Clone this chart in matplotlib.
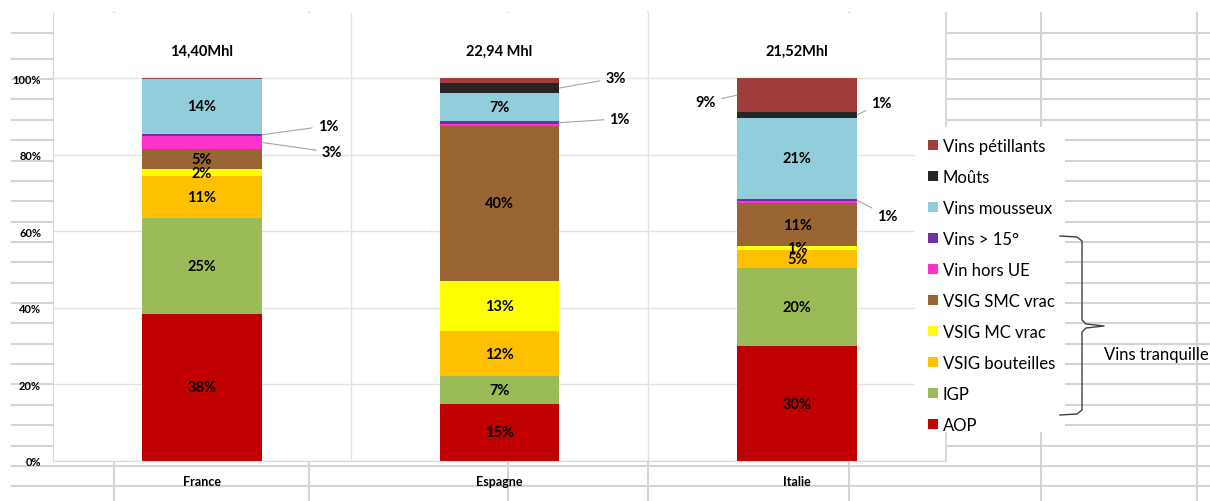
import matplotlib
matplotlib.use("Agg")
import matplotlib.pyplot as plt
from matplotlib.patches import Patch, Rectangle

plt.rcParams['font.family'] = ['Lato', 'DejaVu Sans']

# donnees (% du volume par pays)
pays = ['France', 'Espagne', 'Italie']
volumes = ['14,40Mhl', '22,94 Mhl', '21,52Mhl']
categories = ['AOP', 'IGP', 'VSIG bouteilles', 'VSIG MC vrac', 'VSIG SMC vrac',
              'Vin hors UE', 'Vins > 15°', 'Vins mousseux', 'Moûts', 'Vins pétillants']
aop = [38.4, 15.0, 30.0]
igp = [25.0, 7.1, 20.4]
vsig_bouteilles = [11.0, 11.9, 4.6]
vsig_mc_vrac = [1.8, 13.1, 1.1]
vsig_smc_vrac = [5.3, 40.3, 11.3]
vin_hors_ue = [3.4, 0.6, 0.4]
vins_15 = [0.6, 0.7, 0.6]
vins_mousseux = [14.2, 7.4, 21.3]
mouts = [0.0, 2.6, 1.4]
vins_petillants = [0.3, 1.3, 8.9]
parts = [aop, igp, vsig_bouteilles, vsig_mc_vrac, vsig_smc_vrac,
         vin_hors_ue, vins_15, vins_mousseux, mouts, vins_petillants]

couleurs = ['#C00000', '#9BBB59', '#FFC000', '#FFFF00', '#996633',
            '#FF33CC', '#7030A0', '#92CDDC', '#262626', '#A03C3C']

# etiquettes sorties de la barre : (pays, categorie, dx, dy) en pixels
externes = [(0, 6, 56, 9), (0, 5, 60, -10),
            (1, 8, 46, 10), (1, 6, 50, 4),
            (2, 9, -21, -7), (2, 8, 14, 12), (2, 6, 20, -16)]
cachees = [(1, 9)]

W, H = 1210, 502
fig = plt.figure(figsize=(W / 100, H / 100), dpi=100)

# fond facon tableur
bg = fig.add_axes([0, 0, 1, 1], zorder=0)
bg.set_xlim(0, W)
bg.set_ylim(H, 0)
bg.axis('off')
lignes = [34.3] + [59.7 + 20.36 * k for k in range(22)]
for y in lignes:
    bg.plot([12, W], [y, y], color='#d4d4d4', lw=1.5)
for x in [114, 309, 508, 648, 849, 1041, 1197]:
    bg.plot([x, x], [14, H], color='#d4d4d4', lw=1.5)

ax = fig.add_axes([53 / W, (H - 462) / H, (946 - 53) / W, (462 - 14) / H], zorder=1)
ax.set_facecolor('white')
ax.set_xlim(-0.5, 2.5)
ax.set_ylim(0, 117)

x = range(len(pays))
bas = [0.0] * len(pays)
for k, (vals, c, nom) in enumerate(zip(parts, couleurs, categories)):
    ax.bar(x, vals, 0.403, bottom=bas, color=c, label=nom, zorder=2)
    for i, v in enumerate(vals):
        milieu = bas[i] + v / 2
        ext = [e for e in externes if e[0] == i and e[1] == k]
        if ext:
            dx, dy = ext[0][2], ext[0][3]
            bord = i + 0.2015 if dx > 0 else i - 0.2015
            ax.annotate(f'{round(v)}%', xy=(bord, milieu), xytext=(dx, dy),
                        textcoords='offset pixels', ha='left' if dx > 0 else 'right',
                        va='center', fontsize=10.5, fontweight='bold',
                        arrowprops=dict(arrowstyle='-', color='#a6a6a6', lw=0.8,
                                        shrinkA=2, shrinkB=0), zorder=4)
        elif v >= 1 and (i, k) not in cachees:
            ax.text(i, milieu, f'{round(v)}%', ha='center', va='center',
                    fontsize=10.5, fontweight='bold', zorder=3)
        bas[i] += v

for i, vol in enumerate(volumes):
    ax.text(i, 107.0, vol, ha='center', va='center', fontsize=10.5, fontweight='bold')

ax.set_yticks(range(0, 101, 20))
ax.set_yticklabels([f'{t}%' for t in range(0, 101, 20)], fontsize=8, fontweight='bold')
ax.set_xticks(list(x))
ax.set_xticklabels(pays, fontsize=9, fontweight='bold')
ax.set_xticks([0.5, 1.5], minor=True)
ax.tick_params(axis='y', length=0, pad=8.6)
ax.tick_params(axis='x', which='both', length=0, pad=10)
ax.yaxis.grid(True, color='#e3e3e3', lw=1, zorder=0)
ax.xaxis.grid(True, which='minor', color='#e3e3e3', lw=1, zorder=0)
ax.set_axisbelow(True)
ax.spines['top'].set_visible(False)
for s in ['left', 'bottom', 'right']:
    ax.spines[s].set_color('#d9d9d9')
ax.spines['right'].set_linewidth(1.5)

# legende et accolade
top = fig.add_axes([0, 0, 1, 1], zorder=3)
top.set_xlim(0, W)
top.set_ylim(H, 0)
top.axis('off')
top.patch.set_alpha(0)
top.add_patch(Rectangle((915, 128), 150, 305, facecolor='white', edgecolor='none'))
acc_x = [1060, 1077, 1082, 1082, 1086, 1104, 1086, 1082, 1082, 1077, 1060]
acc_y = [237, 238, 242, 321, 325, 327, 329, 333, 411, 415, 416]
top.plot(acc_x, acc_y, color='#404040', lw=1)
top.text(1104, 355, 'Vins tranquille', ha='left', va='center', fontsize=12)

poignees = [Patch(facecolor=c, edgecolor='none') for c in couleurs][::-1]
leg = fig.legend(poignees, categories[::-1], loc='upper left',
                 bbox_to_anchor=(928 / W, 1 - 139 / H), frameon=False,
                 handlelength=0.6, handleheight=0.6, handletextpad=0.3,
                 labelspacing=0.9, fontsize=12, borderaxespad=0, borderpad=0)
leg.set_zorder(5)

fig.savefig('out.png', dpi=100)
